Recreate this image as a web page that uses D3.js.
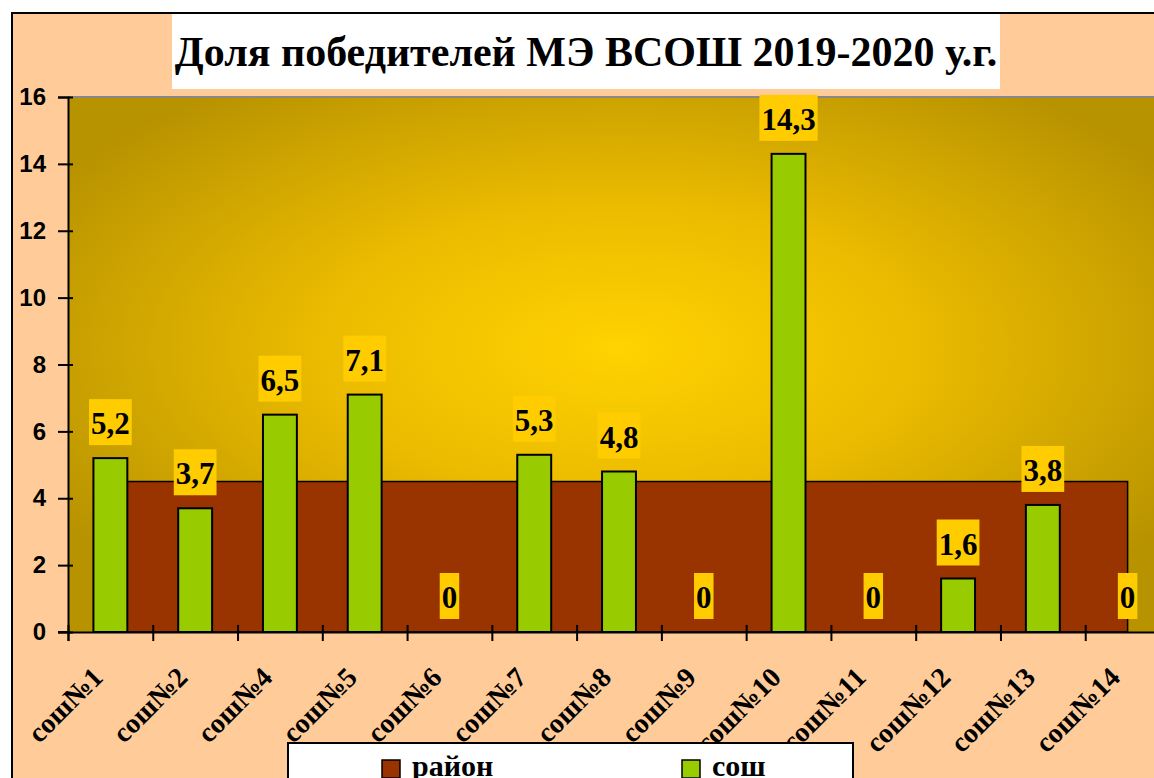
<!DOCTYPE html>
<html>
<head>
<meta charset="utf-8">
<script src="https://cdn.jsdelivr.net/npm/d3@7"></script>
<style>
  html, body { margin: 0; padding: 0; background: #ffffff; overflow: hidden; }
  svg { display: block; }
</style>
</head>
<body>
<svg id="chart" width="1154" height="778"></svg>
<script>
// ---- data ----
const title = "Доля победителей МЭ ВСОШ 2019-2020 у.г.";
const categories = ["сош№1","сош№2","сош№4","сош№5","сош№6","сош№7","сош№8","сош№9","сош№10","сош№11","сош№12","сош№13","сош№14"];
const soshValues = [5.2, 3.7, 6.5, 7.1, 0, 5.3, 4.8, 0, 14.3, 0, 1.6, 3.8, 0];
const raionValues = [4.5, 4.5, 4.5, 4.5, 4.5, 4.5, 4.5, 4.5, 4.5, 4.5, 4.5, 4.5, 4.5];
const yTicks = [0, 2, 4, 6, 8, 10, 12, 14, 16];
const seriesNames = ["район", "сош"];

// ---- layout ----
const svg = d3.select("#chart");
const plot = { left: 68, right: 1170, top: 97, bottom: 632 };
const colors = { raion: "#993300", sosh: "#99CC00", labelBox: "#FFCC00", outer: "#FFCC99" };
const serif = "'Liberation Serif', 'Times New Roman', serif";
const sans = "'Liberation Sans', Arial, sans-serif";

const x = d3.scaleBand().domain(categories).range([plot.left, plot.right])
  .paddingInner(0.6).paddingOuter(0.3);
const xb = d3.scaleLinear().domain([0, categories.length]).range([plot.left, plot.right]);
const y = d3.scaleLinear().domain([0, 16]).range([plot.bottom, plot.top]);
const cx = c => x(c) + x.bandwidth() / 2;

// defs
const defs = svg.append("defs");
const grad = defs.append("radialGradient").attr("id", "plotGrad")
  .attr("cx", "0.5").attr("cy", "0.47").attr("r", "0.6");
grad.append("stop").attr("offset", "0%").attr("stop-color", "#FFD200");
grad.append("stop").attr("offset", "45%").attr("stop-color", "#EBBB00");
grad.append("stop").attr("offset", "100%").attr("stop-color", "#B89300");

// outer chart area
svg.append("rect").attr("x", 12).attr("y", 13).attr("width", 1200).attr("height", 820)
  .attr("fill", colors.outer).attr("stroke", "#000").attr("stroke-width", 2);

// title box
svg.append("rect").attr("x", 172).attr("y", 14).attr("width", 828).attr("height", 75)
  .attr("fill", "#ffffff");
svg.append("text").attr("x", 586).attr("y", 66).attr("text-anchor", "middle")
  .attr("font-family", serif).attr("font-weight", "bold").attr("font-size", 42)
  .attr("fill", "#000").text(title);

// plot area
svg.append("rect").attr("x", plot.left).attr("y", plot.top)
  .attr("width", plot.right - plot.left).attr("height", plot.bottom - plot.top)
  .attr("fill", "url(#plotGrad)");
svg.append("line").attr("x1", plot.left).attr("x2", plot.right)
  .attr("y1", plot.top).attr("y2", plot.top).attr("stroke", "#888").attr("stroke-width", 2);

// район area
const areaData = categories.map((c, i) => ({ c, v: raionValues[i] }));
const area = d3.area().x(d => cx(d.c)).y0(y(0)).y1(d => y(d.v));
svg.append("path").datum(areaData).attr("d", area)
  .attr("fill", colors.raion).attr("stroke", "#000").attr("stroke-width", 1.5);

// сош bars
svg.append("g").selectAll("rect").data(categories).join("rect")
  .attr("x", c => x(c)).attr("width", x.bandwidth())
  .attr("y", (c, i) => y(soshValues[i]))
  .attr("height", (c, i) => y(0) - y(soshValues[i]))
  .attr("fill", colors.sosh).attr("stroke", "#000").attr("stroke-width", 2);

// y axis
const yAxis = svg.append("g").attr("transform", `translate(${plot.left},0)`)
  .call(d3.axisLeft(y).tickValues(yTicks).tickSize(10).tickPadding(12).tickFormat(d3.format("d")));
yAxis.select(".domain").attr("stroke", "#000").attr("stroke-width", 2);
yAxis.selectAll(".tick line").attr("stroke", "#000").attr("stroke-width", 2).attr("x2", -10).attr("x1", 5);
yAxis.selectAll(".tick text").attr("font-family", sans).attr("font-weight", "bold")
  .attr("font-size", 24).attr("fill", "#000");

// x axis (ticks at category boundaries)
const xAxis = svg.append("g").attr("transform", `translate(0,${plot.bottom})`)
  .call(d3.axisBottom(xb).tickValues(d3.range(categories.length + 1)).tickSize(9).tickFormat(""));
xAxis.select(".domain").attr("stroke", "#000").attr("stroke-width", 2);
xAxis.selectAll(".tick line").attr("stroke", "#000").attr("stroke-width", 2).attr("y1", -7).attr("y2", 9);
svg.append("line").attr("x1", plot.left - 10).attr("x2", plot.left)
  .attr("y1", plot.bottom).attr("y2", plot.bottom).attr("stroke", "#000").attr("stroke-width", 2);

// x category labels (rotated)
const xLab = svg.append("g").attr("transform", `translate(0,${plot.bottom})`)
  .call(d3.axisBottom(x).tickSize(0).tickPadding(0));
xLab.select(".domain").remove();
xLab.selectAll(".tick text")
  .attr("font-family", serif).attr("font-weight", "bold").attr("font-size", 28).attr("fill", "#000")
  .attr("text-anchor", "end").attr("dy", 0)
  .attr("transform", "translate(-6,47) rotate(-45)");

// data labels
const lbl = svg.append("g");
categories.forEach((c, i) => {
  const v = soshValues[i];
  const g = lbl.append("g");
  const t = g.append("text").attr("x", cx(c)).attr("y", y(v) - 24)
    .attr("text-anchor", "middle").attr("font-family", serif).attr("font-weight", "bold")
    .attr("font-size", 31).attr("fill", "#000")
    .text(String(v).replace(".", ","));
  const bb = t.node().getBBox();
  g.insert("rect", "text").attr("x", bb.x - 2).attr("width", bb.width + 4)
    .attr("y", y(v) - 59).attr("height", 46).attr("fill", colors.labelBox);
});

// legend
const leg = svg.append("g");
leg.append("rect").attr("x", 288).attr("y", 743).attr("width", 565).attr("height", 80)
  .attr("fill", "#fff").attr("stroke", "#000").attr("stroke-width", 2);
const legItems = [
  { name: seriesNames[0], color: colors.raion, x: 382 },
  { name: seriesNames[1], color: colors.sosh, x: 682 }
];
legItems.forEach(d => {
  leg.append("rect").attr("x", d.x).attr("y", 760).attr("width", 18).attr("height", 18)
    .attr("fill", d.color).attr("stroke", "#000").attr("stroke-width", 1.5);
  leg.append("text").attr("x", d.x + 30).attr("y", 776).attr("font-family", serif)
    .attr("font-weight", "bold").attr("font-size", 30).attr("fill", "#000").text(d.name);
});
</script>
</body>
</html>
